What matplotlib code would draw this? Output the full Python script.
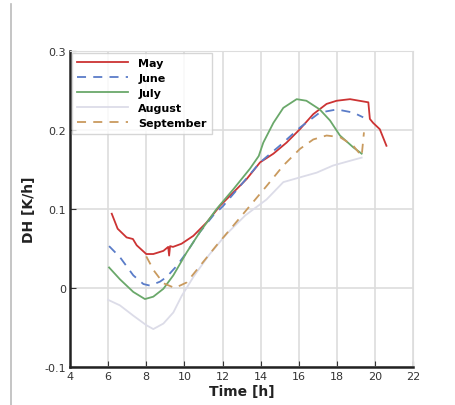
import matplotlib
matplotlib.use("Agg")
import matplotlib.pyplot as plt
from matplotlib.lines import Line2D

may_t = [6.19, 6.5, 6.97, 7.3, 7.5, 8.0, 8.37, 8.9, 9.15, 9.2, 9.25, 9.4, 9.85, 10.47, 11.17, 11.87, 12.57, 13.27, 13.97, 14.67, 15.36, 16.06, 16.76, 17.46, 17.99, 18.69, 19.65, 19.73, 19.9, 20.25, 20.6]
may_v = [0.094, 0.075, 0.064, 0.062, 0.054, 0.043, 0.043, 0.047, 0.052, 0.041, 0.053, 0.052, 0.056, 0.066, 0.083, 0.104, 0.121, 0.138, 0.159, 0.170, 0.184, 0.201, 0.220, 0.233, 0.237, 0.239, 0.235, 0.214, 0.209, 0.201, 0.180]

june_t = [6.05, 6.62, 7.32, 7.85, 8.2, 8.72, 9.07, 9.6, 10.12, 10.82, 11.52, 12.04, 12.92, 13.97, 15.0, 16.06, 17.1, 18.0, 18.86, 19.38]
june_v = [0.053, 0.039, 0.016, 0.005, 0.003, 0.008, 0.014, 0.028, 0.045, 0.071, 0.092, 0.104, 0.129, 0.159, 0.180, 0.203, 0.222, 0.226, 0.222, 0.216]

july_t = [6.05, 6.62, 7.32, 7.93, 8.37, 8.9, 9.42, 10.12, 10.82, 11.69, 12.57, 13.44, 13.9, 14.14, 14.67, 15.19, 15.89, 16.4, 17.1, 17.64, 18.16, 18.86, 19.3]
july_v = [0.026, 0.011, -0.005, -0.014, -0.011, -0.001, 0.016, 0.045, 0.071, 0.100, 0.125, 0.151, 0.167, 0.184, 0.209, 0.228, 0.239, 0.237, 0.226, 0.212, 0.193, 0.178, 0.170]

aug_t = [6.0, 6.62, 7.32, 8.0, 8.37, 8.9, 9.42, 9.86, 10.5, 11.3, 12.2, 13.2, 14.31, 15.19, 16.06, 16.94, 17.8, 18.69, 19.3]
aug_v = [-0.015, -0.022, -0.035, -0.047, -0.052, -0.045, -0.031, -0.010, 0.015, 0.042, 0.068, 0.092, 0.112, 0.134, 0.140, 0.146, 0.155, 0.161, 0.165]

sep_t = [8.0, 8.4, 8.9, 9.5, 10.12, 10.82, 11.69, 12.57, 13.44, 14.31, 15.19, 16.06, 16.76, 17.46, 18.16, 18.86, 19.3, 19.42]
sep_v = [0.040, 0.022, 0.006, 0.000, 0.007, 0.028, 0.054, 0.079, 0.104, 0.129, 0.155, 0.176, 0.188, 0.193, 0.191, 0.180, 0.167, 0.197]

series = [
    ("May", may_t, may_v, "#cc3333", "-"),
    ("June", june_t, june_v, "#5a7cc8", (0, (5, 4))),
    ("July", july_t, july_v, "#6aa86a", "-"),
    ("August", aug_t, aug_v, "#dcdce8", "-"),
    ("September", sep_t, sep_v, "#c99a5e", (0, (5, 4))),
]

xticks = [4, 6, 8, 10, 12, 14, 16, 18, 20, 22]
yticks = [-0.1, 0, 0.1, 0.2, 0.3]
ytick_labels = ["-0.1", "0", "0.1", "0.2", "0.3"]

fig = plt.figure(figsize=(4.56, 4.06), dpi=100)
ax = fig.add_axes([0.1535, 0.0936, 0.7525, 0.7784])

for name, t, v, c, ls in series:
    ax.plot(t, v, color=c, linestyle=ls, linewidth=1.3, label=name)

ax.set_xlim(4, 22)
ax.set_ylim(-0.1, 0.3)
ax.set_xticks(xticks)
ax.set_xticklabels([str(x) for x in xticks])
ax.set_yticks(yticks)
ax.set_yticklabels(ytick_labels)
ax.grid(True, color="#dddddd", linewidth=1.2)
ax.set_axisbelow(True)
ax.tick_params(direction="in", labelsize=8, colors="#333333", length=4, pad=3)

for s in ["top", "right"]:
    ax.spines[s].set_color("#dddddd")
for s in ["left", "bottom"]:
    ax.spines[s].set_color("#222222")
    ax.spines[s].set_linewidth(1.8)

ax.set_xlabel("Time [h]", fontsize=10, fontweight="bold", color="#222222", labelpad=2)
ax.set_ylabel("DH [K/h]", fontsize=10, fontweight="bold", color="#222222", labelpad=6)

leg = ax.legend(loc="upper left", frameon=True, fancybox=False,
                borderaxespad=0.15, handlelength=4.6, handletextpad=0.9,
                labelspacing=0.45, borderpad=0.5,
                prop={"weight": "bold", "size": 8})
leg.get_frame().set_edgecolor("#cccccc")
leg.get_frame().set_linewidth(1.0)

fig.add_artist(Line2D([11 / 456, 11 / 456], [0, 1 - 5 / 406], color="#bbbbbb", linewidth=1.2, transform=fig.transFigure))

fig.savefig("out.png", dpi=100)
